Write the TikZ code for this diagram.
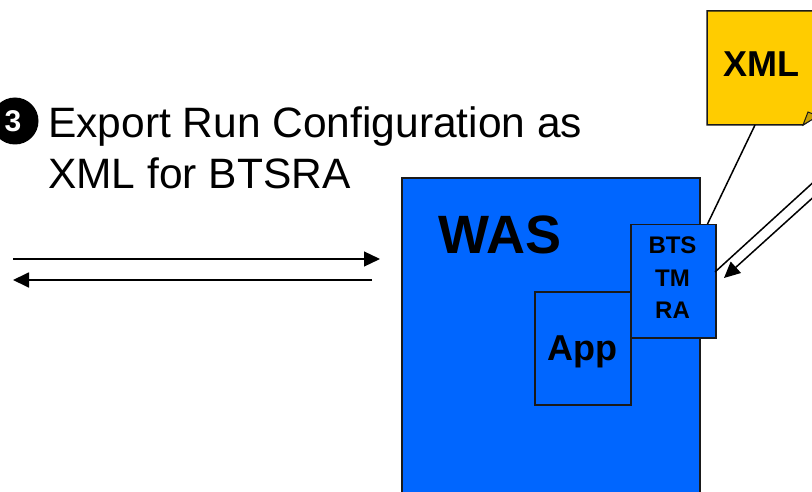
\documentclass[tikz,border=0pt]{standalone}
\usepackage{fontspec}
\setmainfont{Liberation Sans}
\usetikzlibrary{arrows.meta}
\definecolor{wasblue}{HTML}{0066FF}
\definecolor{noteyellow}{HTML}{FFCC00}
\definecolor{folddark}{HTML}{C9A000}
\definecolor{edgegray}{HTML}{1A1A1A}
\begin{document}
\begin{tikzpicture}[x=1pt,y=-1pt,
  box/.style={draw=edgegray,line width=1.5pt,fill=wasblue},
  conn/.style={line width=1.5pt,draw=black},
  arr/.style={conn,-{Triangle[length=16pt,width=15pt]}},
  lbl/.style={inner sep=0pt,font=\bfseries},
  title/.style={anchor=base west,inner sep=0pt,font=\fontsize{42.5}{51}\selectfont}]
\useasboundingbox (0,0) rectangle (812,492);
\begin{scope}
\clip (0,0) rectangle (812,492);
% WAS box
\path[box] (402,178) rectangle (700,500);
\node[lbl,anchor=base west,font=\fontsize{54}{60}\selectfont\bfseries] (was) at (438,253) {WAS};
% App box
\node[box,minimum width=96pt,minimum height=113pt,anchor=north west,inner sep=0pt] (app) at (534,291) {};
\node[lbl,anchor=base,font=\fontsize{36}{40}\selectfont\bfseries] (apptxt) at (582,360) {App};
% BTS box
\node[box,minimum width=85pt,minimum height=113pt,anchor=north west,inner sep=0pt] (bts) at (630,224) {};
\node[lbl,anchor=base,font=\fontsize{24}{28}\selectfont\bfseries] (t1) at (672.5,253) {BTS};
\node[lbl,anchor=base,font=\fontsize{24}{28}\selectfont\bfseries] (t2) at (672.5,286) {TM};
\node[lbl,anchor=base,font=\fontsize{24}{28}\selectfont\bfseries] (t3) at (672.5,318) {RA};
% XML note
\path[draw=edgegray,line width=1.5pt,fill=noteyellow] (707,11) -- (840,11) -- (840,100) -- (803,125) -- (707,125) -- cycle;
\path[draw=edgegray,line width=1pt,fill=folddark] (803,125) -- (808,112) -- (818,116) -- cycle;
\node[lbl,anchor=base,font=\fontsize{36}{40}\selectfont\bfseries] (xml) at (761,77) {XML};
\coordinate (xmlfoot) at (755,125);
\coordinate (btstop) at (707.5,224);
\draw[conn] (xmlfoot) -- (btstop);
% lines from the right
\coordinate (r1) at (818,178);
\coordinate (r1e) at (715,272);
\coordinate (r2) at (818,193);
\coordinate (r2e) at (724,278);
\draw[conn] (r1) -- (r1e);
\draw[arr] (r2) -- (r2e);
\end{scope}
% left arrows
\coordinate (la1) at (13,259);
\coordinate (la2) at (380,259);
\coordinate (lb1) at (372,280);
\coordinate (lb2) at (13,280);
\draw[arr,line width=1.2pt] (la1) -- (la2);
\draw[arr,line width=1.8pt] (lb1) -- (lb2);
% step marker
\begin{scope}
\clip (0,0) rectangle (812,492);
\node[circle,fill=black,minimum size=47pt,inner sep=0pt] (stepno) at (15,121) {};
\node[lbl,text=white,font=\fontsize{30}{32}\selectfont\bfseries] at (13,121) {3};
\end{scope}
\node[title] (title1) at (48,138) {Export Run Configuration as};
\node[title] (title2) at (48,189) {XML for BTSRA};
\end{tikzpicture}
\end{document}
